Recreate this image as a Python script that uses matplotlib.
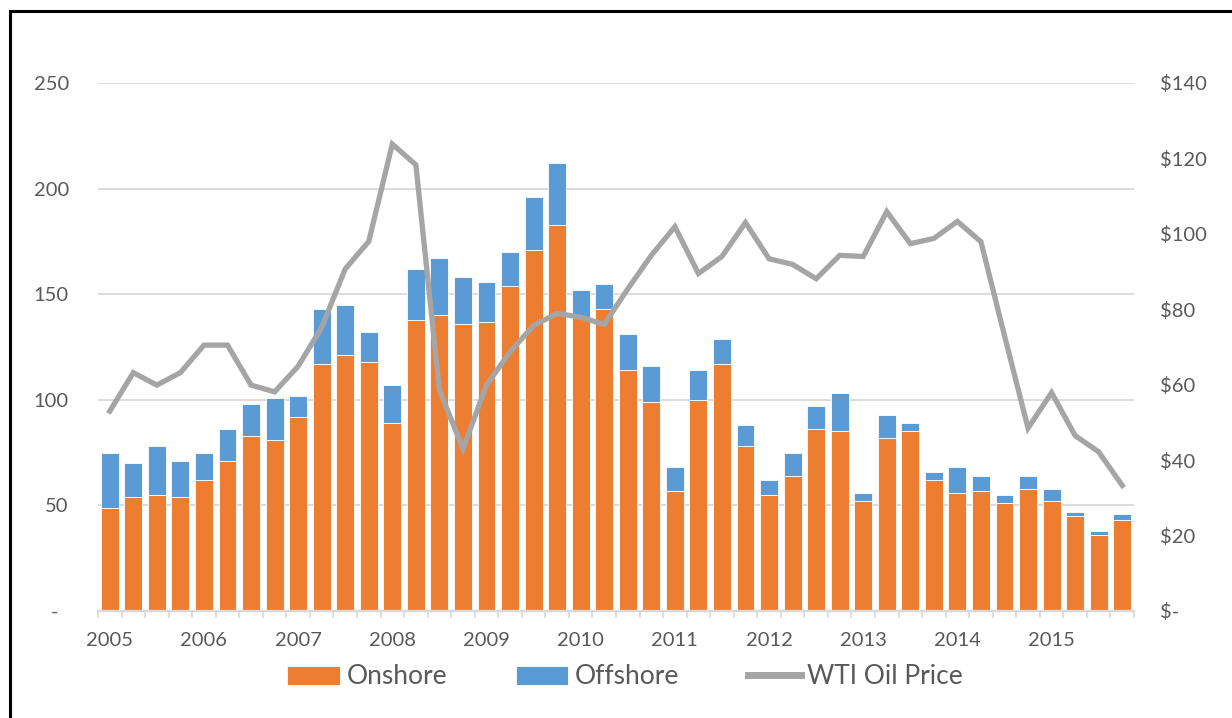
# plot.py
# Quarterly onshore / offshore counts (stacked bars) with the WTI oil price on a second axis.

import matplotlib
matplotlib.use('Agg')
import matplotlib.pyplot as plt
from matplotlib.lines import Line2D
from matplotlib.ticker import FuncFormatter, FixedLocator

plt.rcParams['font.family'] = ['Lato', 'DejaVu Sans']

# ── DATA ─────────────────────────────────────────────────────────────────────
# one entry per quarter, 2005 Q1 .. 2015 Q4
ONSHORE = [49, 54, 55, 54, 62, 71, 83, 81,
           92, 117, 121, 118, 89, 138, 140, 136,
           137, 154, 171, 183, 139, 143, 114, 99,
           57, 100, 117, 78, 55, 64, 86, 85,
           52, 82, 85, 62, 56, 57, 51, 58,
           52, 45, 36, 43]
OFFSHORE = [26, 16, 23, 17, 13, 15, 15, 20,
            10, 26, 24, 14, 18, 24, 27, 22,
            19, 16, 25, 29, 13, 12, 17, 17,
            11, 14, 12, 10, 7, 11, 11, 18,
            4, 11, 4, 4, 12, 7, 4, 6,
            6, 2, 2, 3]
WTI_PRICE = [53.0, 63.2, 59.9, 63.2, 70.5, 70.5, 59.9, 58.1,
             64.9, 75.2, 90.7, 98.0, 123.8, 118.3, 58.6, 43.0,
             59.9, 68.7, 75.7, 78.9, 77.9, 76.0, 85.4, 94.3,
             101.9, 89.5, 94.0, 103.0, 93.4, 91.9, 88.1, 94.3,
             94.0, 105.9, 97.4, 98.8, 103.3, 97.9, 73.0, 48.5,
             57.9, 46.5, 42.2, 33.3]
YEARS = ['2005', '2006', '2007', '2008', '2009', '2010',
         '2011', '2012', '2013', '2014', '2015']

ORANGE = '#ED7D31'
BLUE = '#5B9BD5'
GRAY = '#A5A5A5'
TEXT = '#595959'
GRID = '#D9D9D9'

# ── CHART ────────────────────────────────────────────────────────────────────
fig = plt.figure(figsize=(12.32, 7.18), dpi=100)
ax = fig.add_axes([98 / 1232, 1 - 611 / 718, (1134 - 98) / 1232, (611 - 83) / 718])
ax2 = ax.twinx()

x = list(range(len(ONSHORE)))
ax.bar(x, ONSHORE, width=0.76, color=ORANGE, edgecolor='white', linewidth=0.6,
       label='Onshore', zorder=2)
ax.bar(x, OFFSHORE, bottom=ONSHORE, width=0.76, color=BLUE, edgecolor='white',
       linewidth=0.6, label='Offshore', zorder=2)
ax2.plot(x, WTI_PRICE, color=GRAY, linewidth=3.8, solid_joinstyle='miter',
         label='WTI Oil Price')

ax.set_xlim(-0.5, len(x) - 0.5)
ax.set_ylim(0, 250)
ax2.set_ylim(0, 140)
ax.set_yticks(range(0, 251, 50))
ax2.set_yticks(range(0, 141, 20))

ax.yaxis.set_major_formatter(FuncFormatter(lambda v, p: '-  ' if v == 0 else f'{v:,.0f}'))
ax2.yaxis.set_major_formatter(FuncFormatter(lambda v, p: '$-' if v == 0 else f'${v:,.0f}'))

# year labels under the first quarter, small ticks between every quarter
ax.set_xticks(range(0, len(x), 4))
ax.set_xticklabels(YEARS)
ax.xaxis.set_minor_locator(FixedLocator([i - 0.5 for i in range(len(x) + 1)]))
ax.tick_params(axis='x', which='major', length=0, pad=15, labelsize=14.5, labelcolor=TEXT)
ax.tick_params(axis='x', which='minor', length=5, width=1.2, color=GRID, direction='out')
ax.tick_params(axis='y', length=0, pad=21, labelsize=14.5, labelcolor=TEXT)
ax2.tick_params(axis='y', length=0, pad=19, labelsize=14.5, labelcolor=TEXT)

ax.grid(axis='y', color=GRID, linewidth=1.3, zorder=0)
ax.set_axisbelow(True)
for a in (ax, ax2):
    for side in ('top', 'right', 'left'):
        a.spines[side].set_visible(False)
    a.spines['bottom'].set_color(GRID)
    a.spines['bottom'].set_linewidth(1.6)

handles = [ax.patches[0], ax.patches[len(x)], ax2.lines[0]]
leg = fig.legend(handles, ['Onshore', 'Offshore', 'WTI Oil Price'], loc='center',
                 bbox_to_anchor=(625 / 1232, 1 - 677 / 718), ncol=3, frameon=False,
                 fontsize=19, handlelength=2.0, handletextpad=0.25, columnspacing=2.6)
for t in leg.get_texts():
    t.set_color(TEXT)
leg.get_lines()[0].set_linewidth(5)

# black frame on the left and top edges of the screenshot
fig.add_artist(Line2D([9.5 / 1232, 9.5 / 1232], [0, 1 - 11 / 718], color='black',
                      linewidth=2.2, transform=fig.transFigure))
fig.add_artist(Line2D([9.5 / 1232, 1], [1 - 11 / 718, 1 - 11 / 718], color='black',
                      linewidth=2.2, transform=fig.transFigure))

fig.savefig('out.png', dpi=100)
